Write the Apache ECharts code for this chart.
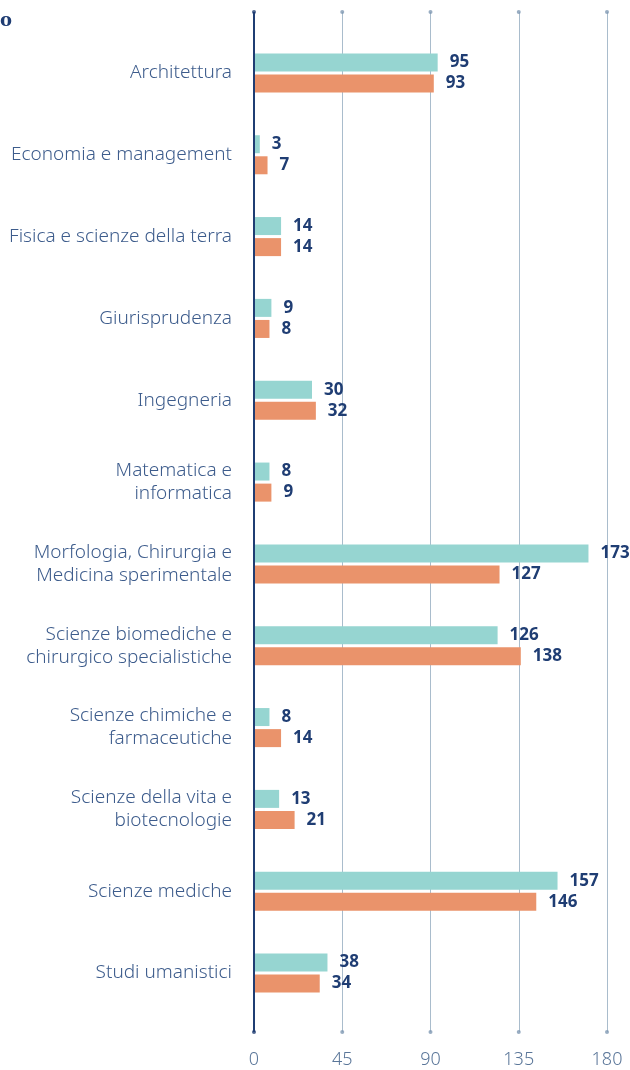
<!DOCTYPE html>
<html><head><meta charset="utf-8">
<script src="https://cdn.jsdelivr.net/npm/echarts@6/dist/echarts.min.js"></script>
<style>html,body{margin:0;padding:0;background:#fff}#c{width:630px;height:1070px}</style>
</head><body><div id="c"></div>
<script>
const categories = [
  "Architettura",
  "Economia e management",
  "Fisica e scienze della terra",
  "Giurisprudenza",
  "Ingegneria",
  "Matematica e\ninformatica",
  "Morfologia, Chirurgia e\nMedicina sperimentale",
  "Scienze biomediche e\nchirurgico specialistiche",
  "Scienze chimiche e\nfarmaceutiche",
  "Scienze della vita e\nbiotecnologie",
  "Scienze mediche",
  "Studi umanistici"
];
const seriesA = [95, 3, 14, 9, 30, 8, 173, 126, 8, 13, 157, 38];
const seriesB = [93, 7, 14, 8, 32, 9, 127, 138, 14, 21, 146, 34];
const ticks = [0, 45, 90, 135, 180];

const navy = '#1f3d73';
const gridCol = '#a9bccc';
const font = 'Noto Sans';

const dots = [];
ticks.forEach(t => { dots.push([t, 0]); dots.push([t, 1]); });

const chart = echarts.init(document.getElementById('c'));
chart.setOption({
  animation: false,
  textStyle: { fontFamily: font },
  graphic: [{
    type: 'text', left: 0, top: 12,
    style: { text: 'o', font: 'bold 18px "DejaVu Serif"', fill: navy }
  }],
  grid: [
    { left: 254, width: 353, top: 12, height: 1020, containLabel: false },
    { left: 254, width: 348, top: 32, height: 982, containLabel: false }
  ],
  xAxis: [
    { gridIndex: 0, type: 'value', min: 0, max: 180, interval: 45,
      axisLine: { show: false }, axisTick: { show: false },
      splitLine: { show: true, lineStyle: { color: gridCol, width: 1 } },
      axisLabel: { margin: 19, color: '#5a7699', fontSize: 18, fontFamily: font, fontWeight: 300 } },
    { gridIndex: 1, type: 'value', min: 0, max: 180, show: false }
  ],
  yAxis: [
    { gridIndex: 0, type: 'value', min: 0, max: 1, show: false },
    { gridIndex: 1, type: 'category', data: categories, inverse: true,
      axisLine: { show: false }, axisTick: { show: false }, splitLine: { show: false },
      axisLabel: { margin: 22, color: '#3d5c8c', fontSize: 19, lineHeight: 23, fontFamily: font, fontWeight: 300, align: 'right' } }
  ],
  series: [
    { type: 'line', xAxisIndex: 0, yAxisIndex: 0, data: [[0, 0], [0, 1]],
      symbol: 'none', lineStyle: { color: navy, width: 2 }, z: 5, silent: true },
    { type: 'scatter', xAxisIndex: 0, yAxisIndex: 0, data: dots,
      symbol: 'circle', symbolSize: 4,
      itemStyle: { color: function (p) { return p.data[0] === 0 ? navy : '#7f99b3'; } },
      z: 6, silent: true },
    { type: 'bar', xAxisIndex: 1, yAxisIndex: 1, data: seriesA, barWidth: 18, barGap: '17%',
      itemStyle: { color: '#96d5d1' },
      label: { show: true, position: 'right', distance: 12, color: navy, fontWeight: 'bold', fontSize: 17, fontFamily: font } },
    { type: 'bar', xAxisIndex: 1, yAxisIndex: 1, data: seriesB, barWidth: 18, barGap: '17%',
      itemStyle: { color: '#ea936b' },
      label: { show: true, position: 'right', distance: 12, color: navy, fontWeight: 'bold', fontSize: 17, fontFamily: font } }
  ]
});
</script></body></html>
